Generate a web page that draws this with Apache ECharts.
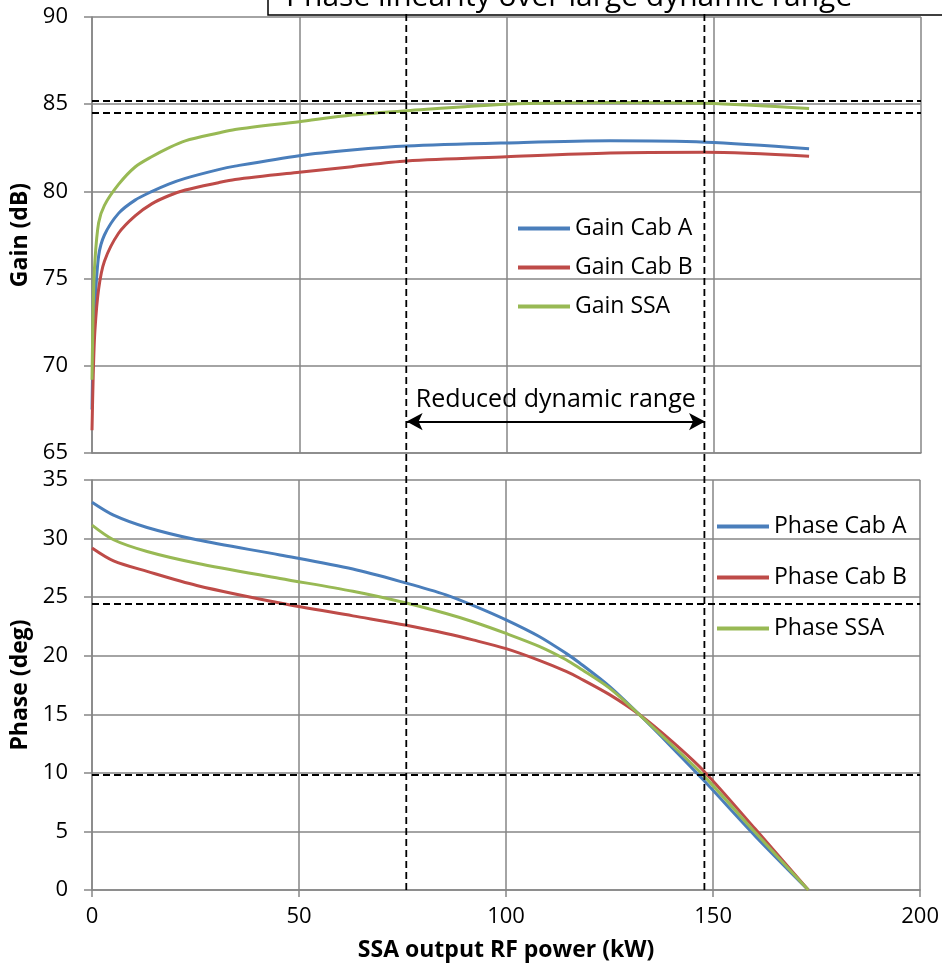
<!DOCTYPE html>
<html><head><meta charset="utf-8">
<script src="https://cdn.jsdelivr.net/npm/echarts@6/dist/echarts.min.js"></script>
<style>html,body{margin:0;padding:0;background:#fff}#c{width:942px;height:963px}</style>
</head><body><div id="c"></div>
<script>
// ---- data ----
const gainX    = [0, 0.3, 0.7, 1.6, 3, 6.4, 10.4, 14.5, 18.5, 22.5, 30.5, 34.5, 50, 62.7, 75.9, 100, 125, 148, 173];
const gainCabA = [67.5, 71.5, 73.5, 76.3, 77.5, 78.74, 79.5, 80.0, 80.42, 80.75, 81.25, 81.45, 82.05, 82.37, 82.6, 82.78, 82.9, 82.82, 82.45];
const gainCabB = [66.3, 69.5, 72.0, 74.4, 76.0, 77.6, 78.6, 79.3, 79.75, 80.08, 80.5, 80.68, 81.1, 81.42, 81.74, 81.98, 82.2, 82.24, 82.01];
const gainSSA  = [69.2, 73.5, 76.0, 78.2, 79.2, 80.4, 81.4, 82.0, 82.5, 82.9, 83.35, 83.55, 84.0, 84.38, 84.63, 85.0, 85.1, 85.05, 84.75];

const phaseX    = [0, 5.2, 13.3, 25.3, 45.4, 63, 75.9, 85.5, 92, 100, 108, 114.5, 117.7, 124.9, 132.1, 140, 147.9, 160.2, 173];
const phaseCabA = [33.1, 32.0, 30.95, 29.9, 28.6, 27.4, 26.2, 25.2, 24.3, 23.06, 21.64, 20.2, 19.4, 17.4, 15.0, 12.2, 9.3, 4.6, 0];
const phaseCabB = [29.2, 28.1, 27.2, 26.0, 24.5, 23.4, 22.6, 21.9, 21.35, 20.6, 19.6, 18.66, 18.1, 16.7, 15.0, 12.7, 10.1, 5.2, 0];
const phaseSSA  = [31.15, 29.9, 28.9, 27.9, 26.6, 25.5, 24.5, 23.6, 22.9, 21.9, 20.8, 19.66, 18.95, 17.25, 15.0, 12.4, 9.7, 4.9, 0];

const xTicks = [0, 50, 100, 150, 200];
const gainTicks = [65, 70, 75, 80, 85, 90];
const phaseTicks = [0, 5, 10, 15, 20, 25, 30, 35];

const gainLimits = [85.17, 84.5];
const phaseLimits = [24.4, 9.8];
const rangeBounds = [75.9, 147.9];
const arrowLevel = 66.8;

const titleText = 'Phase linearity over large dynamic range';
const names = {
  gA: 'Gain Cab A', gB: 'Gain Cab B', gS: 'Gain SSA',
  pA: 'Phase Cab A', pB: 'Phase Cab B', pS: 'Phase SSA'
};

// ---- styles ----
const FONT = "'Open Sans', sans-serif";
const GRID = '#868686';
const BLUE = '#4A7EBB', RED = '#BE4B48', GREEN = '#98B954';
const pair = (xs, ys) => xs.map((x, i) => [x, ys[i]]);
const dash = { type: [7, 4], color: '#000', width: 1.8 };
const nameStyle = { fontFamily: FONT, fontSize: 23, fontWeight: 'bold', color: '#000' };

const chart = echarts.init(document.getElementById('c'));

const lineSeries = (name, xi, yi, xs, ys, color, extra) => Object.assign({
  name, type: 'line', xAxisIndex: xi, yAxisIndex: yi,
  data: pair(xs, ys), showSymbol: false, smooth: 0.3,
  lineStyle: { color, width: 3 }, itemStyle: { color }, z: 3, animation: false
}, extra || {});

const xAxisBase = (gi, labels) => ({
  type: 'value', gridIndex: gi, min: xTicks[0], max: xTicks[xTicks.length - 1], interval: xTicks[1] - xTicks[0],
  axisLine: { show: true, lineStyle: { color: GRID, width: 1.5 } },
  axisTick: { show: labels, length: 7, lineStyle: { color: GRID, width: 1.5 } },
  axisLabel: { show: labels, fontFamily: FONT, fontSize: 22, color: '#000', margin: 16 },
  splitLine: { show: true, lineStyle: { color: GRID, width: 1.5 } }
});
const yAxisBase = (gi, ticks, name) => ({
  type: 'value', gridIndex: gi, min: ticks[0], max: ticks[ticks.length - 1], interval: ticks[1] - ticks[0],
  name, nameLocation: 'middle', nameGap: 55, nameTextStyle: nameStyle,
  axisLine: { show: true, lineStyle: { color: GRID, width: 1.5 } },
  axisTick: { show: true, length: 8, lineStyle: { color: GRID, width: 1.5 } },
  axisLabel: { fontFamily: FONT, fontSize: 22, color: '#000', margin: 24 },
  splitLine: { show: true, lineStyle: { color: GRID, width: 1.5 } }
});

const option = {
  backgroundColor: '#fff',
  animation: false,
  title: {
    text: titleText, left: 268, top: -22,
    padding: [4, 300, 3, 18],
    borderColor: '#000', borderWidth: 1.5, backgroundColor: '#fff',
    textStyle: { fontFamily: FONT, fontSize: 30, fontWeight: 'normal', color: '#000' }
  },
  grid: [
    { left: 92, right: 21, top: 17, height: 436 },
    { left: 92, right: 21, top: 480, height: 411 }
  ],
  xAxis: [
    xAxisBase(0, false),
    Object.assign(xAxisBase(1, true), {
      name: 'SSA output RF power (kW)', nameLocation: 'middle', nameGap: 49, nameTextStyle: nameStyle
    })
  ],
  yAxis: [
    yAxisBase(0, gainTicks, 'Gain (dB)'),
    yAxisBase(1, phaseTicks, 'Phase (deg)')
  ],
  legend: [
    {
      data: [names.gA, names.gB, names.gS], orient: 'vertical', left: 518, top: 217, padding: 0,
      itemWidth: 52, itemHeight: 4, icon: 'rect', itemGap: 16,
      textStyle: { fontFamily: FONT, fontSize: 23, color: '#000' },
      selectedMode: false
    },
    {
      data: [names.pA, names.pB, names.pS], orient: 'vertical', left: 717, top: 515, padding: 0,
      itemWidth: 52, itemHeight: 4, icon: 'rect', itemGap: 28,
      textStyle: { fontFamily: FONT, fontSize: 23, color: '#000' },
      selectedMode: false
    }
  ],
  series: [
    lineSeries(names.gA, 0, 0, gainX, gainCabA, BLUE, {
      markLine: {
        silent: true, symbol: ['arrow', 'arrow'], symbolSize: [13, 16], animation: false,
        lineStyle: { type: 'solid', color: '#000', width: 2 },
        label: { show: true, position: 'insideMiddleTop', distance: 9, formatter: 'Reduced dynamic range',
          fontFamily: FONT, fontSize: 25, color: '#000' },
        data: [[{ coord: [rangeBounds[0], arrowLevel] }, { coord: [rangeBounds[1], arrowLevel] }]]
      }
    }),
    lineSeries(names.gB, 0, 0, gainX, gainCabB, RED),
    lineSeries(names.gS, 0, 0, gainX, gainSSA, GREEN, {
      markLine: {
        silent: true, symbol: 'none', animation: false, lineStyle: dash, label: { show: false },
        data: gainLimits.map(v => ({ yAxis: v }))
      }
    }),
    lineSeries(names.pA, 1, 1, phaseX, phaseCabA, BLUE),
    lineSeries(names.pB, 1, 1, phaseX, phaseCabB, RED),
    lineSeries(names.pS, 1, 1, phaseX, phaseSSA, GREEN, {
      markLine: {
        silent: true, symbol: 'none', animation: false, lineStyle: dash, label: { show: false },
        data: phaseLimits.map(v => ({ yAxis: v }))
      }
    })
  ]
};
chart.setOption(option);

// vertical dashed bounds spanning both panels, positioned through the axes' scales
const yTop = chart.convertToPixel({ yAxisIndex: 0 }, gainTicks[gainTicks.length - 1]) - 3;
const yBot = chart.convertToPixel({ yAxisIndex: 1 }, phaseTicks[0]);
chart.setOption({
  graphic: rangeBounds.map(v => {
    const px = chart.convertToPixel({ xAxisIndex: 1 }, v);
    return { type: 'line', z: 10, silent: true,
      shape: { x1: px, y1: yTop, x2: px, y2: yBot },
      style: { stroke: '#000', lineWidth: 1.8, lineDash: [7, 4] } };
  })
});
</script>
</body></html>
